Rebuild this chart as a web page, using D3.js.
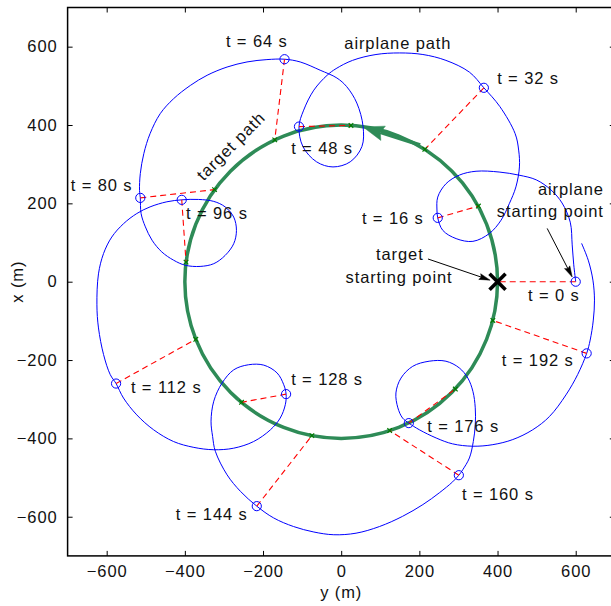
<!DOCTYPE html>
<html>
<head>
<meta charset="utf-8">
<script src="https://cdn.jsdelivr.net/npm/d3@7"></script>
<style>
  html, body { margin: 0; padding: 0; background: #fff; }
  svg { display: block; }
  text { font-family: "Liberation Sans", Arial, sans-serif; font-size: 16.5px; letter-spacing: 0.9px; fill: #111; }
</style>
</head>
<body>
<svg id="chart" width="611" height="606"></svg>
<script>
// times at which airplane / target are marked
const markTimes = [0, 16, 32, 48, 64, 80, 96, 112, 128, 144, 160, 176, 192];

// [y, x] positions in metres
const planeAtMarks = [
  [600, 0], [247, 163], [365, 495], [-108, 396], [-145, 568], [-514, 214], [-408, 209],
  [-576, -260], [-141, -287], [-216, -573], [301, -494], [173, -361], [628, -183]
];
const targetAtMarks = [
  [400, 0], [351, 193], [214, 338], [25, 399], [-170, 362], [-324, 235], [-397, 50],
  [-372, -147], [-255, -308], [-75, -393], [124, -380], [292, -274], [388, -99]
];

// target flies a circle round the origin
const targetCenter = [0, 0];
const targetRadius = 400;

// airplane path t = 0 .. 200 s, [y, x]
const planePath = [
  [600, 0], [595, 43], [591, 94], [586, 152], [565, 201], [537, 234], [499, 260], [455, 272], [404, 280],
  [345, 282], [302, 272], [268, 250], [247, 216], [245, 183], [247, 163],
  [260, 131], [294, 110], [337, 103], [379, 123], [409, 157], [430, 199], [447, 242], [456, 293], [454, 336],
  [445, 378], [406, 447], [365, 495],
  [328, 535], [268, 565], [209, 580], [149, 584], [89, 580], [29, 565], [-13, 544], [-36, 527], [-70, 489],
  [-96, 438], [-108, 396],
  [-98, 345], [-63, 306], [-21, 293], [23, 306], [53, 345], [56, 396], [40, 456], [14, 498], [-11, 520],
  [-54, 540], [-105, 561], [-145, 568],
  [-190, 567], [-241, 561], [-292, 548], [-343, 527], [-386, 501], [-429, 467], [-463, 429], [-489, 378],
  [-505, 327], [-514, 276], [-516, 233], [-514, 214],
  [-512, 174], [-501, 140], [-484, 106], [-459, 76], [-429, 55], [-399, 42], [-361, 39], [-326, 46], [-297, 67],
  [-275, 97], [-268, 131], [-275, 165], [-297, 191], [-326, 205], [-365, 210], [-408, 209],
  [-446, 204], [-489, 191], [-523, 174], [-557, 148], [-587, 114], [-608, 72], [-621, 20], [-625, -59],
  [-621, -118], [-608, -186], [-591, -237], [-576, -260],
  [-557, -297], [-523, -340], [-480, -378], [-429, -408], [-377, -423], [-326, -429], [-275, -425], [-224, -408],
  [-181, -378], [-156, -348], [-143, -314], [-141, -287],
  [-147, -263], [-164, -233], [-198, -213], [-237, -212], [-275, -225], [-305, -259], [-326, -305], [-333, -356],
  [-329, -395], [-322, -433], [-292, -493], [-258, -535], [-216, -573],
  [-173, -603], [-122, -625], [-70, -639], [-19, -646], [38, -642], [98, -625], [157, -599], [209, -569],
  [251, -539], [285, -511], [301, -494],
  [311, -480], [328, -450], [338, -408], [343, -365], [343, -322], [337, -280], [324, -246], [302, -220],
  [268, -203], [225, -203], [183, -216], [153, -246], [140, -284], [145, -322], [157, -348], [173, -361],
  [200, -378], [243, -399], [285, -414], [337, -420], [388, -416], [439, -403], [490, -378], [533, -344],
  [575, -289], [605, -237], [628, -183],
  [637, -149], [645, -98], [648, -47], [644, 4], [632, 55], [615, 98]
];

const tickValues = [-600, -400, -200, 0, 200, 400, 600];

// text labels, anchored in data units [y, x]
const timeLabels = [
  [478, -49], [53, 147], [399, 505], [-128, 326], [-295, 599], [-692, 232], [-397, 160],
  [-538, -284], [-128, -264], [-423, -608], [309, -557], [220, -384], [411, -215]
];

const W = 611, H = 606;
const pL = 67.6, pR = 614.8, pT = 7.5, pB = 555.9;

const svg = d3.select("#chart");

const xs = d3.scaleLinear().domain([-700, 700]).range([pL, pR]);
const ys = d3.scaleLinear().domain([-700, 700]).range([pB, pT]);

const green = "#2e8b57";

// target path circle
svg.append("ellipse")
  .attr("cx", xs(targetCenter[0]))
  .attr("cy", ys(targetCenter[1]))
  .attr("rx", xs(targetRadius) - xs(0))
  .attr("ry", ys(0) - ys(targetRadius))
  .attr("fill", "none")
  .attr("stroke", green)
  .attr("stroke-width", 3.5);

function arrow(from, to, color, width, headLen, headW, notch) {
  const x0 = xs(from[0]), y0 = ys(from[1]);
  const x1 = xs(to[0]), y1 = ys(to[1]);
  const a = Math.atan2(y1 - y0, x1 - x0);
  const ux = Math.cos(a), uy = Math.sin(a);
  const bx = x1 - ux * headLen, by = y1 - uy * headLen;
  svg.append("line")
    .attr("x1", x0).attr("y1", y0)
    .attr("x2", bx + ux * 3).attr("y2", by + uy * 3)
    .attr("stroke", color).attr("stroke-width", width);
  const p = [
    [x1, y1],
    [bx - uy * headW / 2, by + ux * headW / 2],
    [x1 - ux * headLen * notch, y1 - uy * headLen * notch],
    [bx + uy * headW / 2, by - ux * headW / 2]
  ];
  svg.append("path")
    .attr("d", "M" + p.map(d => d.join(",")).join("L") + "Z")
    .attr("fill", color).attr("stroke", color).attr("stroke-width", 0.5);
}

// direction arrow on target path
arrow([202, 349], [56, 395], green, 3.5, 21, 15, 0.86);

// airplane path
const line = d3.line()
  .x(d => xs(d[0]))
  .y(d => ys(d[1]))
  .curve(d3.curveCatmullRom.alpha(0.5));

svg.append("path")
  .datum(planePath)
  .attr("d", line)
  .attr("fill", "none")
  .attr("stroke", "#0000ff")
  .attr("stroke-width", 1);

// red dashed lines plane -> target
svg.selectAll("line.link")
  .data(markTimes)
  .enter()
  .append("line")
  .attr("class", "link")
  .attr("x1", (d, i) => xs(planeAtMarks[i][0]))
  .attr("y1", (d, i) => ys(planeAtMarks[i][1]))
  .attr("x2", (d, i) => xs(targetAtMarks[i][0]))
  .attr("y2", (d, i) => ys(targetAtMarks[i][1]))
  .attr("stroke", "#ff0000")
  .attr("stroke-width", 1.1)
  .attr("stroke-dasharray", "6,4");

// small target marks
const s = 2.3;
svg.selectAll("path.tmark")
  .data(targetAtMarks.slice(1))
  .enter()
  .append("path")
  .attr("class", "tmark")
  .attr("d", d => {
    const cx = xs(d[0]), cy = ys(d[1]);
    return `M${cx - s},${cy - s}L${cx + s},${cy + s}M${cx - s},${cy + s}L${cx + s},${cy - s}`;
  })
  .attr("stroke", "#007a00")
  .attr("stroke-width", 1.2);

// airplane marks
svg.selectAll("circle.pmark")
  .data(planeAtMarks)
  .enter()
  .append("circle")
  .attr("class", "pmark")
  .attr("cx", d => xs(d[0]))
  .attr("cy", d => ys(d[1]))
  .attr("r", 4.6)
  .attr("fill", "none")
  .attr("stroke", "#0000ff")
  .attr("stroke-width", 1);

// target starting point X
{
  const cx = xs(targetAtMarks[0][0]), cy = ys(targetAtMarks[0][1]), k = 8;
  svg.append("path")
    .attr("d", `M${cx - k},${cy - k}L${cx + k},${cy + k}M${cx - k},${cy + k}L${cx + k},${cy - k}`)
    .attr("stroke", "#000").attr("stroke-width", 3.6);
}

// labels
svg.selectAll("text.tlab")
  .data(markTimes)
  .enter()
  .append("text")
  .attr("class", "tlab")
  .attr("x", (d, i) => xs(timeLabels[i][0]))
  .attr("y", (d, i) => ys(timeLabels[i][1]))
  .text(d => `t = ${d} s`);

svg.append("text").attr("x", xs(8)).attr("y", ys(595)).text("airplane path");

svg.append("text")
  .attr("transform", `translate(${xs(-272)},${ys(336)}) rotate(-45)`)
  .attr("text-anchor", "middle")
  .text("target path");

svg.append("text").attr("x", xs(672)).attr("y", ys(221)).attr("text-anchor", "end").text("airplane");
svg.append("text").attr("x", xs(672)).attr("y", ys(165)).attr("text-anchor", "end").text("starting point");
svg.append("text").attr("x", xs(150)).attr("y", ys(55)).attr("text-anchor", "middle").text("target");
svg.append("text").attr("x", xs(148)).attr("y", ys(-3)).attr("text-anchor", "middle").text("starting point");

arrow([222, 58], [381, 4], "#000", 1, 11, 6, 0.85);
arrow([527, 136], [591, 12], "#000", 1, 11, 6, 0.85);

// axes box and ticks
svg.append("rect")
  .attr("x", pL).attr("y", pT)
  .attr("width", pR - pL).attr("height", pB - pT)
  .attr("fill", "none").attr("stroke", "#000").attr("stroke-width", 1.5);

const axB = svg.append("g").attr("transform", `translate(0,${pB})`)
  .call(d3.axisBottom(xs).tickValues(tickValues).tickSize(-5).tickPadding(9).tickFormat(d3.format("d")));
const axT = svg.append("g").attr("transform", `translate(0,${pT})`)
  .call(d3.axisTop(xs).tickValues(tickValues).tickSize(-5).tickFormat(""));
const axL = svg.append("g").attr("transform", `translate(${pL},0)`)
  .call(d3.axisLeft(ys).tickValues(tickValues).tickSize(-5).tickPadding(10).tickFormat(d3.format("d")));
const axR = svg.append("g").attr("transform", `translate(${pR},0)`)
  .call(d3.axisRight(ys).tickValues(tickValues).tickSize(-5).tickFormat(""));

[axB, axT, axL, axR].forEach(g => {
  g.select(".domain").remove();
  g.selectAll(".tick line").attr("stroke", "#000").attr("stroke-width", 1);
  g.selectAll(".tick text")
    .style("font-family", '"Liberation Sans", Arial, sans-serif')
    .style("font-size", "16.5px")
    .style("letter-spacing", "0.9px")
    .attr("fill", "#111");
});
axB.selectAll(".tick text").attr("dy", "0.71em");

svg.append("text")
  .attr("x", xs(0)).attr("y", 598)
  .attr("text-anchor", "middle")
  .text("y (m)");

svg.append("text")
  .attr("transform", `translate(23,${ys(0)}) rotate(-90)`)
  .attr("text-anchor", "middle")
  .text("x (m)");
</script>
</body>
</html>
